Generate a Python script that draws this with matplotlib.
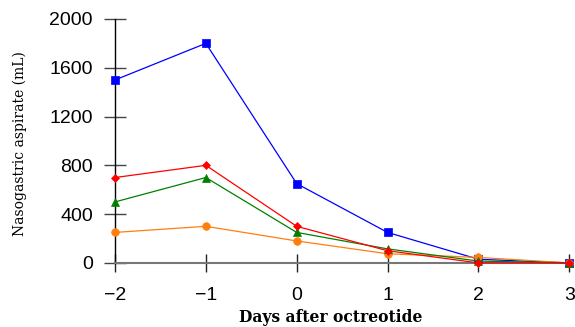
import matplotlib
matplotlib.use("Agg")
import matplotlib.pyplot as plt

days = [-2, -1, 0, 1, 2, 3]
blue = [1500, 1800, 650, 250, 30, 0]
orange = [250, 300, 180, 75, 45, 0]
green = [500, 700, 250, 115, 15, 0]
red = [700, 800, 300, 100, 0, 0]
yticks = [0, 400, 800, 1200, 1600, 2000]
xticks = [-2, -1, 0, 1, 2, 3]
xticklabels = ["\u22122", "\u22121", "0", "1", "2", "3"]

fig = plt.figure(figsize=(5.75, 3.27), dpi=100)
ax = fig.add_axes([0.2, 0.196, 0.79, 0.746])

kw = dict(lw=0.9, clip_on=False, zorder=3, markeredgewidth=0.5)
ax.plot(days, blue, color="#0000ff", marker="s", ms=5.5, **kw)
ax.plot(days, orange, color="#ff7f0e", marker="o", ms=5.5, **kw)
ax.plot(days, green, color="#008000", marker="^", ms=6, **kw)
ax.plot(days, red, color="#ff0000", marker="D", ms=4, **kw)

ax.set_xlim(-2, 3)
ax.set_ylim(0, 2000)
ax.set_xticks(xticks)
ax.set_xticklabels(xticklabels)
ax.set_yticks(yticks)

for s in ["top", "right"]:
    ax.spines[s].set_visible(False)
ax.spines["left"].set_color("black")
ax.spines["left"].set_linewidth(1.0)
ax.spines["bottom"].set_color("#777777")
ax.spines["bottom"].set_linewidth(1.5)

ax.tick_params(axis="y", direction="inout", length=16, width=1, color="#444444",
               pad=8, labelsize=14)
ax.tick_params(axis="x", direction="inout", length=13, width=1, color="#222222",
               pad=11, labelsize=14)
for lab in ax.get_xticklabels() + ax.get_yticklabels():
    lab.set_fontfamily(["Liberation Sans", "DejaVu Sans"])

ax.set_xlabel("Days after octreotide", fontfamily="DejaVu Serif", fontweight="bold",
              fontsize=11.2)
ax.set_ylabel("Nasogastric aspirate (mL)", fontfamily="DejaVu Serif", fontsize=10)
ax.xaxis.set_label_coords((331 - 115) / 454, (263 - 318) / 244)
ax.xaxis.label.set_va("center")
ax.yaxis.set_label_coords((20 - 115) / 454, (263 - 144) / 244)
ax.yaxis.label.set_va("center")

fig.savefig("out.png", dpi=100)
